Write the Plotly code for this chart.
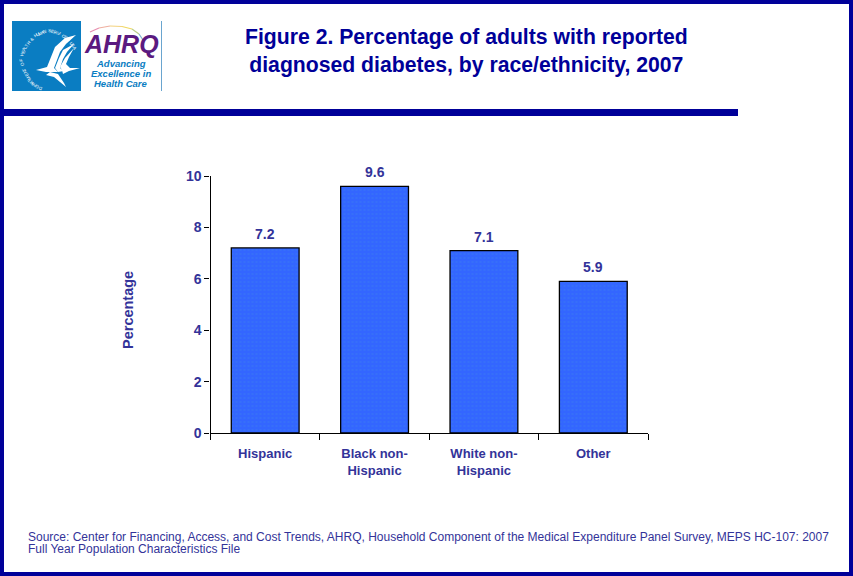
import math
import plotly.graph_objects as go

categories = ["Hispanic", "Black non-<br>Hispanic", "White non-<br>Hispanic", "Other"]
values = [7.2, 9.6, 7.1, 5.9]
y_ticks = [0, 2, 4, 6, 8, 10]
title_text = "<b>Figure 2. Percentage of adults with reported<br>diagnosed diabetes, by race/ethnicity, 2007</b>"
y_title = "<b>Percentage</b>"
source_line_1 = ("Source: Center for Financing, Access, and Cost Trends, AHRQ, Household Component of the "
                 "Medical Expenditure Panel Survey, MEPS HC-107: 2007")
source_line_2 = "Full Year Population Characteristics File"

W, H = 853, 576
NAVY = "#000099"
INK = "#333399"
BAR = "#3366FF"
FONT = "Liberation Sans, Arial, sans-serif"


def px(x):
    return x / W


def py(y):
    return 1 - y / H


def rect(x0, y0, x1, y1, fill, line=None, layer="above"):
    return dict(type="rect", xref="paper", yref="paper", x0=px(x0), x1=px(x1), y0=py(y0), y1=py(y1),
                fillcolor=fill, line=dict(color=line or fill, width=1 if line else 0), layer=layer)


def path(points, fill="white", line_color=None, width=0):
    d = " ".join(("M" if i == 0 else "L") + f"{px(a):.5f},{py(b):.5f}" for i, (a, b) in enumerate(points))
    return dict(type="path", xref="paper", yref="paper", path=d + (" Z" if fill != "rgba(0,0,0,0)" else ""),
                fillcolor=fill, line=dict(color=line_color or fill, width=width), layer="above")


def label(x, y, text, size, color, anchor="center", angle=0):
    return dict(x=px(x), y=py(y), text=text, showarrow=False, xanchor=anchor, yanchor="middle", align=anchor,
                textangle=angle, font=dict(family=FONT, size=size, color=color), xref="paper", yref="paper")


shapes = [
    rect(0, 0, W, 4, NAVY), rect(0, 572, W, H, NAVY), rect(0, 0, 4, H, NAVY), rect(849, 0, W, H, NAVY),
    rect(4, 109, 738, 116, NAVY),
    rect(12, 21, 81, 91, "#0A7DC2"),
    rect(81, 21, 162, 91, "white"),
    rect(161, 21, 162, 91, "#6AA5CF"),
]
# eagle wings and body
for pts in [
    [(36, 70), (47, 67), (51, 57), (55, 47), (65, 38), (76, 35), (66, 44), (60, 52), (57, 60), (54, 68), (58, 72), (46, 72)],
    [(55, 68), (59, 58), (63, 50), (74, 44), (67, 52), (63, 59), (60, 68), (64, 71), (58, 72)],
    [(60, 67), (65, 58), (74, 48), (69, 57), (66, 64), (70, 68), (80, 68), (69, 71), (63, 74), (62, 70)],
    [(50, 72), (58, 74), (64, 83), (66, 87), (60, 82), (54, 77), (46, 75)],
]:
    shapes.append(path(pts))
# rainbow arc over the AHRQ mark
arc_cols = ["#E88FB0", "#EFB0A0", "#F3D27E", "#F0D860", "#B9CE8A", "#7FB0D0"]
arc_pts = [(90, 32), (99, 28), (110, 26), (122, 26.5), (132, 29), (139, 34), (143, 40)]
for i, col in enumerate(arc_cols):
    shapes.append(path([arc_pts[i], arc_pts[i + 1]], fill="rgba(0,0,0,0)", line_color=col, width=1.2))

annotations = [
    label(466, 51, title_text, 21.2, NAVY),
    label(26, 537, source_line_1, 12, INK, "left"),
    label(26, 549, source_line_2, 12, INK, "left"),
    label(128, 310, y_title, 14.5, INK, angle=-90),
    label(121, 44, "<b><i>AHRQ</i></b>", 25, "#5B1A80"),
    label(121, 63, "<b><i>Advancing</i></b>", 9.5, "#0A7DC2"),
    label(121, 73, "<b><i>Excellence in</i></b>", 9.5, "#0A7DC2"),
    label(121, 83, "<b><i>Health Care</i></b>", 9.5, "#0A7DC2"),
]
# value labels above the bars
for cat, v in zip(categories, values):
    annotations.append(dict(x=cat, y=v, xref="x", yref="y", text=f"<b>{v:.1f}</b>", showarrow=False,
                            yanchor="bottom", yshift=4, font=dict(family=FONT, size=14, color=INK)))
# circular seal text
seal = "DEPARTMENT OF HEALTH & HUMAN SERVICES-USA"
n = len(seal)
for i, ch in enumerate(seal):
    deg = 250 - 225 * i / (n - 1)
    a = math.radians(deg)
    annotations.append(dict(x=px(44 + 27 * math.cos(a)), y=py(55 - 29 * math.sin(a)), text=ch, showarrow=False,
                            textangle=90 - deg, font=dict(family=FONT, size=4.5, color="white"),
                            xref="paper", yref="paper"))

tick_font = dict(family=FONT, size=13, color=INK, weight=700)
fig = go.Figure(go.Bar(
    x=categories, y=values, width=0.62,
    marker=dict(color=BAR, line=dict(color="black", width=1.3),
                pattern=dict(shape=".", fgcolor="#3C7CF0", bgcolor=BAR, size=4, solidity=0.2)),
    cliponaxis=False, hoverinfo="skip",
))
fig.update_layout(
    width=W, height=H, autosize=False, margin=dict(l=0, r=0, t=0, b=0, pad=0), paper_bgcolor="white",
    plot_bgcolor="white", showlegend=False, shapes=shapes, annotations=annotations,
    font=dict(family=FONT, color=INK),
    xaxis=dict(domain=[px(210.5), px(648)], range=[-0.5, 3.5], type="category", tickson="boundaries", ticks="outside",
               ticklen=6, tickwidth=1.3, tickcolor="black", showline=True, linecolor="black", linewidth=1.3,
               showgrid=False, tickangle=0, tickfont=tick_font, automargin=False, ticklabelstandoff=8),
    yaxis=dict(domain=[py(433), py(176)], range=[0, 10], tickvals=y_ticks, ticks="outside", ticklen=5, tickwidth=1.3,
               tickcolor="black", showline=True, linecolor="black", linewidth=1.3, showgrid=False, zeroline=False,
               tickfont=dict(family=FONT, size=14, color=INK, weight=700), automargin=False),
)
fig.write_html("out.html", config=dict(displayModeBar=False),
               post_script="document.body.style.margin='0';")
